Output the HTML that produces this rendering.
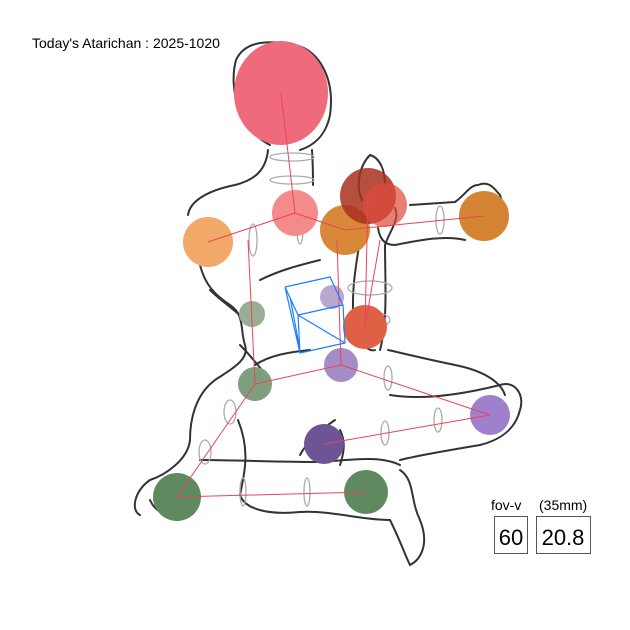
<!DOCTYPE html>
<html><head><style>html,body{margin:0;padding:0;background:#fff}svg{display:block}</style></head><body>
<svg width="630" height="630" viewBox="0 0 630 630" xmlns="http://www.w3.org/2000/svg" font-family="Liberation Sans, DejaVu Sans, sans-serif">
<rect width="630" height="630" fill="#fff"/>
<text x="32" y="48" font-size="14" fill="#000">Today's Atarichan : 2025-1020</text>
<!-- body outlines -->
<g fill="none" stroke="#333" stroke-width="2" stroke-linecap="round">
<path d="M270 145 C240 130 228 90 236 60 C245 40 270 40 295 45 C320 50 335 80 330 115 C326 135 315 145 300 150"/>
<path d="M268 150 C266 170 255 180 235 185 C210 190 190 200 188 215"/>
<path d="M312 150 C313 165 313 175 313 185"/>
<path d="M200 265 C205 285 215 295 230 305 C245 315 240 330 245 345 C250 360 230 370 215 380 C195 395 190 420 190 440 C188 460 165 475 150 480 C135 490 130 510 140 515"/>
<path d="M240 345 C250 355 255 362 262 370"/>
<path d="M238 420 C250 450 245 470 240 495 C245 510 270 515 300 512 C330 510 360 520 390 520 C400 540 405 555 410 565 C420 560 430 545 420 520 C410 500 415 480 400 470"/>
<path d="M200 460 C230 460 280 462 320 462 C350 460 380 455 400 465"/>
<path d="M390 395 C420 400 460 395 500 385 C515 380 525 395 520 410 C515 430 500 440 480 445 C450 450 420 455 400 460"/>
<path d="M310 350 C290 352 270 355 255 365"/>
<path d="M388 350 C410 355 430 360 455 365 C480 370 500 380 505 395"/>
<path d="M362 200 C355 185 360 165 370 155 C380 158 385 170 385 185 M395 208 C400 220 390 230 385 245 C385 280 388 320 380 350"/>
<path d="M360 240 C355 270 350 300 355 330 C360 345 370 352 375 350"/>
<path d="M378 228 C380 240 385 245 395 245 C420 240 445 235 465 240"/>
<path d="M410 205 L455 202 C465 195 470 185 478 185 C490 180 495 190 500 195 C505 210 500 225 490 238"/>
<path d="M320 260 C300 265 280 270 260 280 M210 290 C220 300 235 310 245 320"/>
<path d="M335 420 C320 430 305 445 300 455 M340 465 C345 450 345 440 340 430"/>
<path d="M165 480 C180 490 185 500 180 510 C170 520 155 512 150 500"/>
</g>
<!-- grey ellipses -->
<g fill="none" stroke="#aaa" stroke-width="1.3">
<ellipse cx="292" cy="157" rx="22" ry="4"/><ellipse cx="292" cy="180" rx="22" ry="4"/>
<ellipse cx="253" cy="240" rx="4" ry="16"/><ellipse cx="300" cy="230" rx="3" ry="14"/>
<ellipse cx="440" cy="220" rx="4" ry="14"/><ellipse cx="370" cy="288" rx="22" ry="7"/>
<ellipse cx="370" cy="320" rx="20" ry="8"/><ellipse cx="230" cy="412" rx="6" ry="12"/>
<ellipse cx="205" cy="452" rx="6" ry="12"/><ellipse cx="388" cy="378" rx="4" ry="12"/>
<ellipse cx="385" cy="433" rx="4" ry="12"/><ellipse cx="438" cy="420" rx="4" ry="12"/>
<ellipse cx="243" cy="492" rx="3" ry="14"/><ellipse cx="307" cy="492" rx="3" ry="14"/>
</g>
<!-- circles -->
<g>
<ellipse cx="281" cy="93" rx="47" ry="52" fill="#ef6b7b"/>
<circle cx="295" cy="213" r="23" fill="#f48a8a"/>
<circle cx="208" cy="242" r="25" fill="#f2a868"/>
<circle cx="345" cy="230" r="25" fill="#d9883a"/>
<circle cx="368" cy="196" r="28" fill="#a8301f" fill-opacity="0.85"/>
<circle cx="385" cy="205" r="22" fill="#e04a3a" fill-opacity="0.7"/>
<circle cx="484" cy="216" r="25" fill="#d58433"/>
<circle cx="252" cy="314" r="13" fill="#9aae95"/>
<circle cx="332" cy="297" r="12" fill="#b8a8d0"/>
<circle cx="365" cy="327" r="22" fill="#e06045"/>
<circle cx="341" cy="365" r="17" fill="#a48cc4"/>
<circle cx="255" cy="384" r="17" fill="#7f9e7f"/>
<circle cx="490" cy="415" r="20" fill="#a080cc"/>
<circle cx="324" cy="444" r="20" fill="#6d5494"/>
<circle cx="177" cy="497" r="24" fill="#5f8a5f"/>
<circle cx="366" cy="492" r="22" fill="#5f8a5f"/>
</g>
<!-- red lines -->
<g stroke="#e8445a" stroke-width="1" fill="none">
<path d="M281 93 L295 213 L208 242 M295 213 L345 230 L484 216 M248 240 L255 384 L341 365 L490 415 M341 365 L337 240 M255 384 L177 497 L366 492 M324 444 L490 415 M365 327 L380 240 M368 196 L365 327"/>
</g>
<!-- blue cube -->
<g stroke="#1a7fff" stroke-width="1.2" fill="none">
<path d="M285 287 L330 277 L343 305 L345 343 L300 353 L285 287 M285 287 L298 315 L343 305 M298 315 L300 353 M298 315 L345 343 M290 297 L300 350"/>
</g>
<!-- fov boxes -->
<text x="491" y="510" font-size="14" fill="#000">fov-v</text>
<text x="539" y="510" font-size="14" fill="#000">(35mm)</text>
<rect x="494.5" y="516.5" width="33" height="37" fill="none" stroke="#555"/>
<rect x="536.5" y="516.5" width="54" height="37" fill="none" stroke="#555"/>
<text x="511" y="545" font-size="22" fill="#000" text-anchor="middle">60</text>
<text x="563" y="545" font-size="22" fill="#000" text-anchor="middle">20.8</text>
</svg>
</body></html>
